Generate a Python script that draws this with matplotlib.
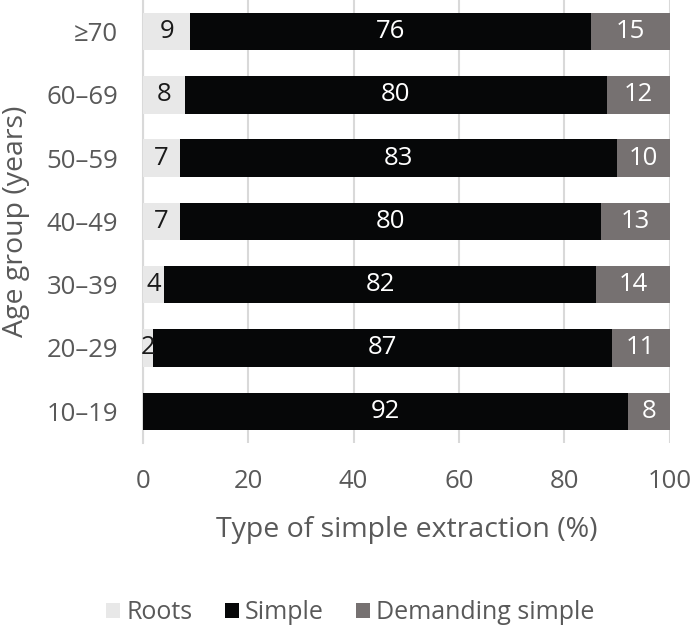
import matplotlib
matplotlib.use("Agg")
import matplotlib.pyplot as plt
import numpy as np

plt.rcParams['font.family'] = ['Open Sans', 'DejaVu Sans']

groups = ["10\u201319", "20\u201329", "30\u201339", "40\u201349", "50\u201359", "60\u201369", "\u226570"]
roots = [0, 2, 4, 7, 7, 8, 9]
simple = [92, 87, 82, 80, 83, 80, 76]
demanding = [8, 11, 14, 13, 10, 12, 15]

series_names = ["Roots", "Simple", "Demanding simple"]
colors = ["#e8e8e8", "#060708", "#767171"]
text_colors = ["#1a1a1a", "white", "white"]

fig = plt.figure(figsize=(6.94, 6.29), dpi=100)
ax = fig.add_axes([0.206, 0.296, 0.759, 0.704])

y = np.arange(len(groups))
left = np.zeros(len(groups))
handles = []
for vals, c, tc, name in zip([roots, simple, demanding], colors, text_colors, series_names):
    vals = np.array(vals, dtype=float)
    h = ax.barh(y, vals, left=left, height=0.59, color=c, label=name, zorder=3)
    handles.append(h)
    for yi, l, v in zip(y, left, vals):
        if v > 0:
            ax.text(l + v / 2, yi, f"{int(v)}", ha="center", va="center",
                    color=tc, fontsize=18.5, zorder=4)
    left += vals

ax.set_xlim(0, 100)
ax.set_ylim(-0.5, 6.5)
ax.set_yticks(y)
ax.set_yticklabels(groups)
ax.set_xticks([0, 20, 40, 60, 80, 100])
ax.tick_params(axis='both', length=0, labelsize=18.5, labelcolor="#595959")
ax.tick_params(axis='y', pad=18)
ax.tick_params(axis='x', pad=19)
ax.xaxis.grid(True, color="#d9d9d9", linewidth=1.5, zorder=0)
ax.set_axisbelow(True)
for s in ["top", "right", "bottom"]:
    ax.spines[s].set_visible(False)
ax.spines["left"].set_color("#d9d9d9")
ax.spines["left"].set_linewidth(1.5)

ax.set_xlabel("Type of simple extraction (%)", fontsize=20.5, color="#595959", labelpad=16)
ax.set_ylabel("Age group (years)", fontsize=20.5, color="#595959", labelpad=12)

fig.legend(handles=handles, labels=series_names, loc="center", bbox_to_anchor=(0.505, 0.026),
           ncol=3, frameon=False, fontsize=18, labelcolor="#595959",
           handlelength=0.55, handleheight=0.55, handletextpad=0.25, columnspacing=1.3)

fig.savefig("out.png", dpi=100)
